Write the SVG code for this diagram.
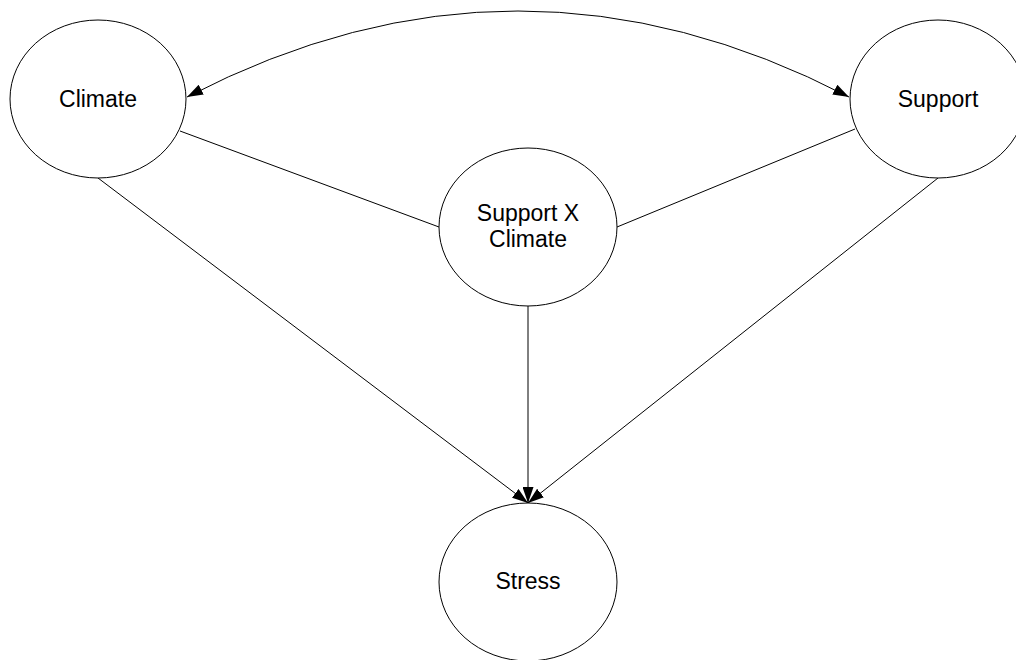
<svg xmlns="http://www.w3.org/2000/svg" width="1016" height="660" viewBox="0 0 1016 660">
<style>
.node ellipse{fill:#fff;stroke:#000;stroke-width:1}
.node text{font-family:"Liberation Sans",Arial,sans-serif;font-size:23px;fill:#000;text-anchor:middle}
.edge{fill:none;stroke:#000;stroke-width:1}
</style>
<defs>
<marker id="arr" viewBox="0 0 16 11" refX="16" refY="5.5" markerWidth="16" markerHeight="11" markerUnits="userSpaceOnUse" orient="auto-start-reverse">
<path d="M0,0 L16,5.5 L0,11 Z" fill="#000"/>
</marker>
</defs>
<rect width="1016" height="660" fill="#fff"/>
<g id="connectors">
<path class="edge" d="M187,97 Q518,-75 849,97" marker-start="url(#arr)" marker-end="url(#arr)"/>
<line class="edge" x1="180" y1="131" x2="439" y2="227"/>
<line class="edge" x1="855" y1="129" x2="617" y2="227"/>
<line class="edge" x1="98" y1="178" x2="528" y2="503" marker-end="url(#arr)"/>
<line class="edge" x1="528" y1="306" x2="528" y2="503" marker-end="url(#arr)"/>
<line class="edge" x1="938" y1="178" x2="528" y2="503" marker-end="url(#arr)"/>
</g>
<g id="climate" class="node">
<ellipse cx="98" cy="99" rx="88" ry="79"/>
<text x="98" y="107">Climate</text>
</g>
<g id="support" class="node">
<ellipse cx="938" cy="99" rx="88" ry="79"/>
<text x="938" y="107">Support</text>
</g>
<g id="interaction" class="node">
<ellipse cx="528" cy="227" rx="89" ry="79"/>
<text x="528" y="221">Support X</text>
<text x="528" y="247">Climate</text>
</g>
<g id="stress" class="node">
<ellipse cx="528" cy="582" rx="89" ry="79"/>
<text x="528" y="589">Stress</text>
</g>
</svg>
